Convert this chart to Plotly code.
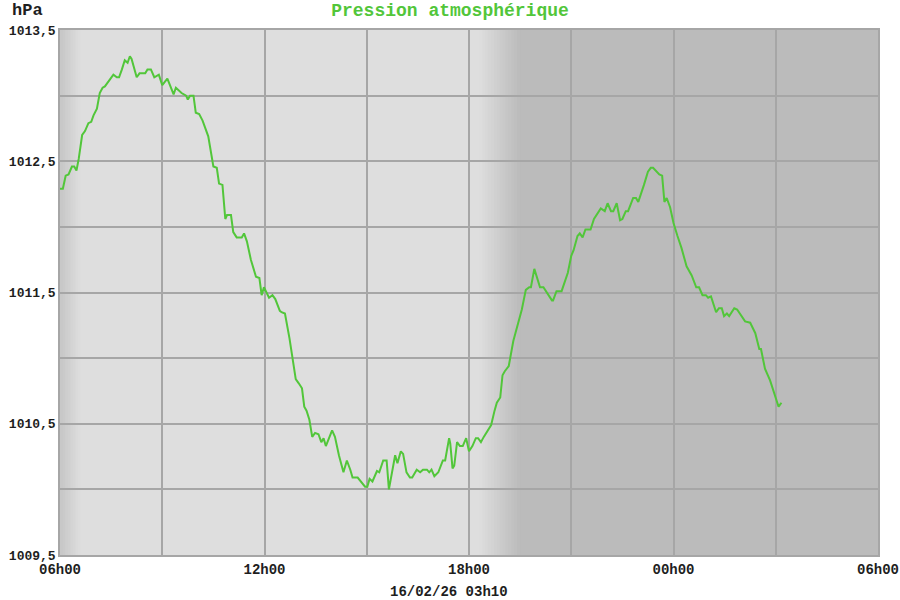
import pandas as pd
import plotly.graph_objects as go

# ---- data ----
start = "2026-02-15 06:00"
end = "2026-02-16 06:00"
minutes_since_start = [
    0, 5, 10, 15, 21, 25, 29, 33, 39, 44,
    50, 55, 59, 65, 70, 75, 79, 85, 94, 100,
    104, 109, 114, 119, 123, 126, 130, 135, 140, 150,
    154, 160, 166, 174, 180, 189, 200, 204, 214, 222,
    225, 229, 235, 239, 245, 251, 261, 270, 276, 280,
    286, 291, 294, 301, 305, 311, 320, 324, 329, 336,
    345, 351, 355, 359, 368, 374, 379, 387, 390, 396,
    404, 415, 420, 426, 430, 434, 439, 444, 449, 455,
    460, 464, 468, 479, 484, 491, 499, 505, 511, 515,
    524, 537, 541, 545, 550, 558, 562, 569, 575, 579,
    590, 594, 600, 604, 610, 616, 620, 628, 634, 639,
    646, 650, 654, 659, 666, 674, 678, 685, 687, 691,
    694, 699, 704, 709, 715, 720, 726, 732, 736, 741,
    746, 759, 765, 769, 775, 779, 783, 790, 798, 805,
    813, 820, 826, 829, 835, 845, 851, 866, 868, 874,
    883, 894, 900, 904, 911, 915, 920, 925, 934, 940,
    952, 959, 964, 970, 974, 980, 986, 990, 996, 1000,
    1009, 1014, 1018, 1028, 1035, 1040, 1044, 1055, 1060, 1064,
    1068, 1074, 1080, 1087, 1094, 1103, 1112, 1120, 1125, 1131,
    1137, 1141, 1146, 1155, 1160, 1165, 1169, 1174, 1178, 1187,
    1192, 1206, 1215, 1224, 1231, 1234, 1241, 1250, 1265, 1270,
]
pressure_hpa = [
    1012.29, 1012.29, 1012.39, 1012.40, 1012.46, 1012.46, 1012.43, 1012.52, 1012.70, 1012.73,
    1012.79, 1012.80, 1012.85, 1012.90, 1013.02, 1013.06, 1013.07, 1013.11, 1013.16, 1013.14,
    1013.14, 1013.20, 1013.27, 1013.25, 1013.30, 1013.28, 1013.22, 1013.14, 1013.17, 1013.17,
    1013.20, 1013.20, 1013.14, 1013.16, 1013.08, 1013.13, 1013.01, 1013.06, 1013.02, 1013.00,
    1012.97, 1013.00, 1013.00, 1012.87, 1012.86, 1012.81, 1012.69, 1012.46, 1012.45, 1012.33,
    1012.32, 1012.06, 1012.09, 1012.09, 1011.96, 1011.92, 1011.92, 1011.95, 1011.89, 1011.75,
    1011.62, 1011.61, 1011.48, 1011.54, 1011.46, 1011.48, 1011.45, 1011.36, 1011.35, 1011.34,
    1011.15, 1010.84, 1010.81, 1010.77, 1010.63, 1010.60, 1010.53, 1010.40, 1010.43, 1010.42,
    1010.36, 1010.39, 1010.33, 1010.45, 1010.40, 1010.26, 1010.13, 1010.22, 1010.15, 1010.09,
    1010.09, 1010.02, 1010.02, 1010.08, 1010.06, 1010.14, 1010.13, 1010.22, 1010.22, 1010.00,
    1010.26, 1010.20, 1010.29, 1010.27, 1010.13, 1010.09, 1010.09, 1010.15, 1010.13, 1010.15,
    1010.15, 1010.13, 1010.15, 1010.10, 1010.13, 1010.22, 1010.22, 1010.39, 1010.35, 1010.16,
    1010.18, 1010.36, 1010.33, 1010.33, 1010.39, 1010.29, 1010.33, 1010.39, 1010.39, 1010.36,
    1010.40, 1010.49, 1010.60, 1010.66, 1010.70, 1010.87, 1010.90, 1010.94, 1011.13, 1011.24,
    1011.37, 1011.52, 1011.54, 1011.54, 1011.68, 1011.54, 1011.54, 1011.44, 1011.44, 1011.51,
    1011.51, 1011.65, 1011.78, 1011.82, 1011.93, 1011.95, 1011.92, 1011.98, 1011.98, 1012.06,
    1012.14, 1012.12, 1012.18, 1012.12, 1012.12, 1012.18, 1012.05, 1012.06, 1012.12, 1012.12,
    1012.22, 1012.22, 1012.19, 1012.32, 1012.42, 1012.45, 1012.45, 1012.40, 1012.39, 1012.19,
    1012.22, 1012.15, 1012.03, 1011.93, 1011.84, 1011.70, 1011.63, 1011.54, 1011.54, 1011.48,
    1011.48, 1011.46, 1011.47, 1011.35, 1011.38, 1011.38, 1011.32, 1011.34, 1011.32, 1011.38,
    1011.37, 1011.28, 1011.27, 1011.19, 1011.07, 1011.07, 1010.92, 1010.83, 1010.63, 1010.66,
]
y_tick_values = [1009.5, 1010.0, 1010.5, 1011.0, 1011.5, 1012.0, 1012.5, 1013.0, 1013.5]
y_tick_labels = ["1009,5", "", "1010,5", "", "1011,5", "", "1012,5", "", "1013,5"]
x_tick_hours = [0, 3, 6, 9, 12, 15, 18, 21, 24]
x_tick_labels = ["06h00", "", "12h00", "", "18h00", "", "00h00", "", "06h00"]
title_text = "Pression atmosphérique"
unit_text = "hPa"
stamp_text = "16/02/26 03h10"

# day / night shading
dusk_start, dusk_end = "2026-02-15 18:18", "2026-02-15 19:30"
dawn_start, dawn_end = "2026-02-15 06:00", "2026-02-15 06:36"

# ---- figure ----
t0 = pd.Timestamp(start)
t_end = pd.Timestamp(end)
times = [t0 + pd.Timedelta(minutes=m) for m in minutes_since_start]
x_tick_vals = [t0 + pd.Timedelta(hours=h) for h in x_tick_hours]

FONT = "Liberation Mono"
GREEN = "#52c63a"
TEXT = "#1e1e1e"
DAY = (222, 222, 222)
NIGHT = (187, 187, 187)
DAWN_EDGE = (198, 198, 198)

def mix(a, b, f):
    return "rgb(%d,%d,%d)" % tuple(round(a[i] + (b[i] - a[i]) * f) for i in range(3))

shapes = []
# dusk gradient: overlapping rects, each running to the end, lighter first
n = 14
ds, de = pd.Timestamp(dusk_start), pd.Timestamp(dusk_end)
for i in range(n + 1):
    x0 = ds + (de - ds) * i / n
    shapes.append(dict(type="rect", xref="x", yref="paper", x0=x0, x1=t_end, y0=0, y1=1,
                       fillcolor=mix(DAY, NIGHT, min(1.0, (i + 0.5) / n)), line_width=0,
                       layer="below"))
# dawn gradient at the left edge: widest (lightest) first, narrower darker on top
n2 = 8
ws, we = pd.Timestamp(dawn_start), pd.Timestamp(dawn_end)
for i in reversed(range(n2)):
    x1 = ws + (we - ws) * (i + 1) / n2
    shapes.append(dict(type="rect", xref="x", yref="paper", x0=ws, x1=x1, y0=0, y1=1,
                       fillcolor=mix(DAWN_EDGE, DAY, (i + 0.5) / n2), line_width=0,
                       layer="below"))

fig = go.Figure()
fig.add_trace(go.Scatter(x=times, y=pressure_hpa, mode="lines",
                         line=dict(color=GREEN, width=2), hoverinfo="x+y"))

fig.update_layout(
    width=900, height=600,
    margin=dict(l=60, r=22, t=30, b=45, autoexpand=False),
    paper_bgcolor="white",
    plot_bgcolor="rgb(222,222,222)",
    showlegend=False,
    shapes=shapes,
    font=dict(family=FONT, size=13, color=TEXT, weight="bold"),
    title=dict(text=title_text, x=0.5, xanchor="center", xref="container",
               y=1 - 10 / 600, yanchor="middle", yref="container",
               font=dict(family=FONT, size=18, color=GREEN, weight="bold")),
    annotations=[
        dict(text=unit_text, xref="paper", yref="paper", x=-0.0611, y=1.0, yshift=20,
             xanchor="left", yanchor="middle", showarrow=False,
             font=dict(family=FONT, size=17, color=TEXT, weight="bold")),
        dict(text=stamp_text, xref="paper", yref="paper", x=0.476, y=0, yshift=-37,
             xanchor="center", yanchor="middle", showarrow=False,
             font=dict(family=FONT, size=14, color=TEXT, weight="bold")),
    ],
)
fig.update_xaxes(
    type="date", automargin=False,
    range=[t0, t_end],
    tickmode="array", tickvals=x_tick_vals, ticktext=x_tick_labels,
    showgrid=True, gridcolor="#a6a6a6", gridwidth=1.5,
    showline=True, linecolor="#a6a6a6", linewidth=1.5, mirror=True,
    ticks="", zeroline=False, ticklabelstandoff=0,
    tickfont=dict(family=FONT, size=14, color=TEXT, weight="bold"),
)
fig.update_yaxes(
    automargin=False,
    range=[1009.5, 1013.5],
    tickmode="array", tickvals=y_tick_values, ticktext=y_tick_labels,
    showgrid=True, gridcolor="#a6a6a6", gridwidth=1.5,
    showline=True, linecolor="#a6a6a6", linewidth=1.5, mirror=True,
    ticks="", zeroline=False,
    tickfont=dict(family=FONT, size=13, color=TEXT, weight="bold"),
)

# remove the browser's default 8px page margin so the figure sits at (0, 0)
fig.write_html("out.html", config={"displayModeBar": False},
               post_script="document.body.style.margin='0';")
